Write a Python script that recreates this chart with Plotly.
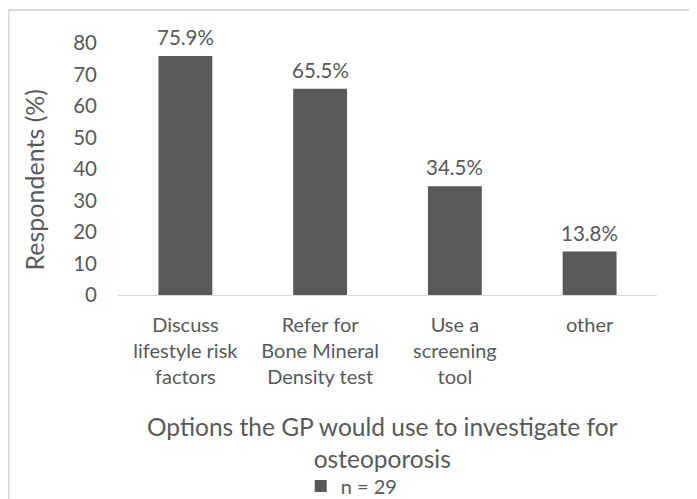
import plotly.graph_objects as go

categories = ["Discuss<br>lifestyle risk<br>factors", "Refer for<br>Bone Mineral<br>Density test",
              "Use a<br>screening<br>tool", "other"]
values = [75.9, 65.5, 34.5, 13.8]
labels = ["75.9%", "65.5%", "34.5%", "13.8%"]
y_ticks = [0, 10, 20, 30, 40, 50, 60, 70, 80]

grey = "#595959"
font = "Lato"

fig = go.Figure()
fig.add_trace(go.Bar(x=categories, y=values, name="n = 29",
                     marker=dict(color=grey, line=dict(width=0)), showlegend=True))

# value labels above the bars
for c, v, t in zip(categories, values, labels):
    fig.add_annotation(x=c, y=v, text=t, showarrow=False, yanchor="middle", yshift=19,
                       font=dict(family=font, size=20.5, color=grey))

# axis titles
fig.add_annotation(xref="paper", yref="paper", x=0.49, y=-0.587, xanchor="center", yanchor="middle",
                   text="Options the GP would use to investigate for<br>osteoporosis",
                   showarrow=False, font=dict(family=font, size=24.5, color=grey))
fig.add_annotation(xref="paper", yref="paper", x=-0.155, y=0.46, textangle=-90,
                   xanchor="center", yanchor="middle",
                   text="Respondents (%)", showarrow=False,
                   font=dict(family=font, size=25, color=grey))

# chart border (cut off at right and bottom like the original)
fig.add_shape(type="rect", xref="paper", yref="paper", x0=-0.203, x1=1.2, y0=-1.0, y1=1.131,
              line=dict(color="#d9d9d9", width=2))

# page body has an 8px margin, so margins are trimmed by 8 on the left/top
fig.update_layout(
    width=697, height=499,
    margin=dict(l=110, r=48, t=35, b=212, autoexpand=False),
    paper_bgcolor="white", plot_bgcolor="white",
    bargap=0.6,
    font=dict(family=font, size=20, color=grey),
    legend=dict(orientation="h", x=0.339, y=-0.758, xanchor="left", yanchor="middle",
                font=dict(size=20), bgcolor="rgba(0,0,0,0)", itemwidth=30),
    xaxis=dict(showline=True, linecolor="#d9d9d9", linewidth=1, showgrid=False,
               tickfont=dict(size=20), ticklabelstandoff=12),
    yaxis=dict(range=[0, 80], tickvals=y_ticks, showgrid=False, zeroline=False,
               tickfont=dict(size=20.5), ticklabelstandoff=20),
)

fig.write_html("out.html")
